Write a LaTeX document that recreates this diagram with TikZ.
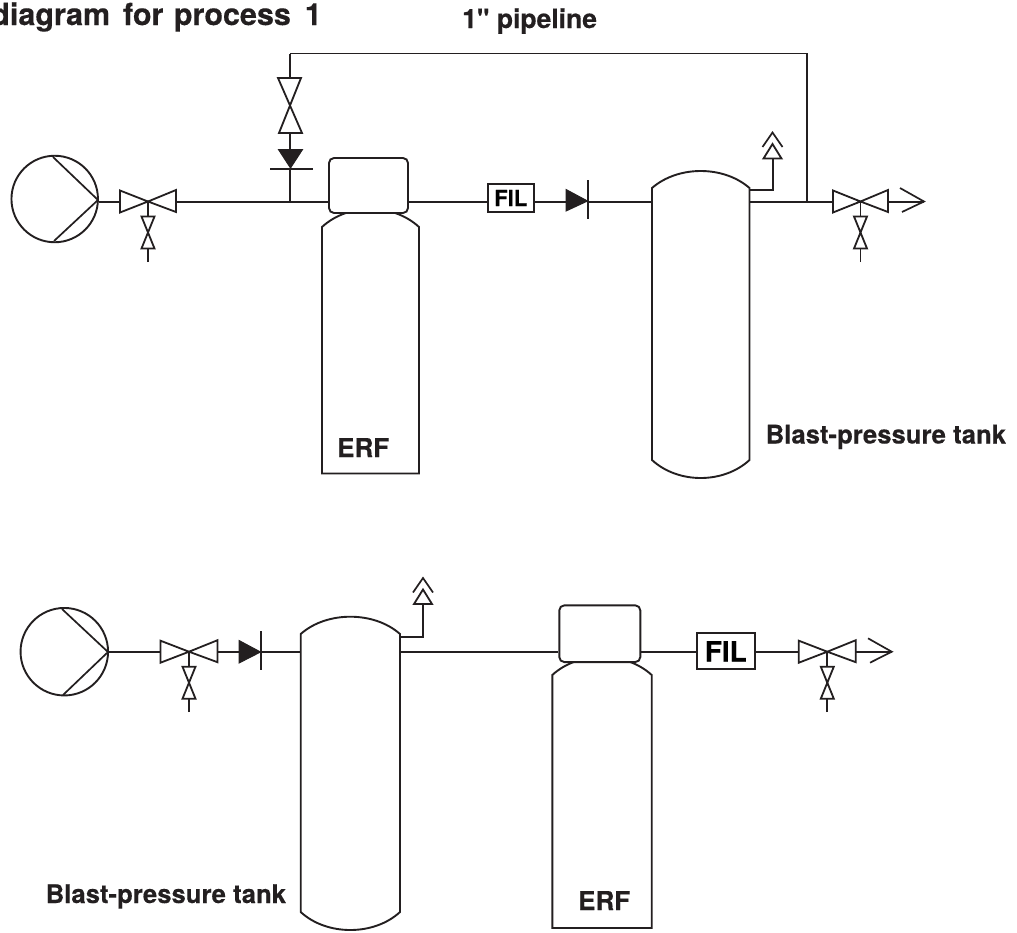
\documentclass[tikz,border=0pt]{standalone}
\usepackage{fontspec}
\setmainfont{TeX Gyre Heros}[BoldFeatures={FakeBold=0.3}]
\newfontfamily\rawheros{TeX Gyre Heros}[BoldFeatures={FakeBold=0.3}]
\usetikzlibrary{backgrounds}
\definecolor{ink}{HTML}{231F20}
\tikzset{
  x=1pt,y=-1pt,
  ink line/.style={draw=ink,line width=2pt},
  pipe/.style={ink line},
  thin pipe/.style={draw=ink,line width=1.7pt},
  symbol/.style={draw=ink,line width=1.8pt,fill=white,line join=miter},
  solid mark/.style={draw=ink,fill=ink,line width=1pt},
  tank body/.style={draw=ink,line width=1.9pt,fill=white},
  pump/.style={circle,draw=ink,line width=1.9pt,fill=white,inner sep=0pt,minimum size=86.5pt},
  header/.style={rectangle,draw=ink,line width=1.9pt,fill=white,rounded corners=5pt,inner sep=0pt},
  filter/.style={rectangle,draw=ink,line width=1.9pt,fill=white,inner sep=0pt,font=\bfseries},
  label/.style={inner sep=0pt,text=ink,font=\bfseries,anchor=base west},
}
% horizontal valve with its small drain valve; #1 name, #2 cx, #3 cy, #4 half-width
\newcommand{\hvalve}[4]{%
  \coordinate (#1) at (#2,#3);
  \coordinate (#1drain) at (#2,#3+60.5);
  \path[symbol] (#2-#4,#3-11) -- (#2,#3) -- (#2-#4,#3+11) -- cycle;
  \path[symbol] (#2+#4,#3-11.5) -- (#2,#3) -- (#2+#4,#3+10.5) -- cycle;
  \path[symbol] (#2-6.5,#3+15) -- (#2+6.5,#3+15) -- (#2,#3+31) -- cycle;
  \path[symbol] (#2-6.5,#3+47) -- (#2+6.5,#3+47) -- (#2,#3+31) -- cycle;
}
% tank with domed top; #1 name #2 left #3 right #4 apex #5 shoulder #6 lower shoulder #7 bottom
\newcommand{\domedtank}[7]{%
  \path[tank body] (#2,#6) -- (#2,#5)
    .. controls ({#2+26},{#4-(#5-#4)/3}) and ({#3-26},{#4-(#5-#4)/3}) .. (#3,#5)
    -- (#3,#6)
    .. controls ({#3-26},{#7+(#7-#6)/3}) and ({#2+26},{#7+(#7-#6)/3}) .. (#2,#6) -- cycle;
}
\newcommand{\flattank}[6]{%
  \path[tank body] (#2,#6) -- (#2,#5)
    .. controls ({#2+26},{#4-(#5-#4)/3}) and ({#3-26},{#4-(#5-#4)/3}) .. (#3,#5)
    -- (#3,#6) -- cycle;
}
% vent; #1 name, #2 x, #3 y of triangle base
\newcommand{\vent}[3]{%
  \coordinate (#1) at (#2,#3);
  \path[symbol] (#2-9,#3) -- (#2+9,#3) -- (#2,#3-14.5) -- cycle;
  \path[thin pipe] (#2-10,#3-11.5) -- (#2,#3-26) -- (#2+10,#3-11.5);
}
\begin{document}
\begin{tikzpicture}
\useasboundingbox (0,0) rectangle (1017,932);

% ---------- upper process ----------
\node[pump] (pumpA) at (54.7,199) {};
\path[thin pipe] (53,157) -- (98,200) -- (54,241);

\hvalve{valveA}{148}{201.5}{28}
\path[symbol] (278,78) -- (301,78) -- (290,105.5) -- cycle;
\path[symbol] (279,133) -- (302,133) -- (290,105.5) -- cycle;
\coordinate (bypassValveTop) at (290,78);
\coordinate (bypassValveBot) at (290,133);
\path[solid mark] (278.5,149.5) -- (302.5,149.5) -- (290.5,168) -- cycle;
\coordinate (bypassCheckTop) at (290,149.5);
\coordinate (bypassBar) at (290,169);
\coordinate (bypassBarL) at (270,169);
\coordinate (bypassBarR) at (312.5,169);
\coordinate (teeIn) at (290,201.5);
\coordinate (corner1) at (290,53.5);
\coordinate (corner2) at (807,53.5);
\coordinate (teeOut) at (807,201.5);

\flattank{erfA}{322}{419}{209}{227}{473.5}
\node[header,minimum width=79pt,minimum height=55pt] (headA) at (368.5,185.5) {};
\node[filter,minimum width=46.5pt,minimum height=28.5pt,font=\bfseries\fontsize{22}{22}\selectfont] (filA) at (510.8,198) {FIL};

\path[solid mark] (566,189.5) -- (566,211) -- (587.5,201) -- cycle;
\coordinate (checkA) at (566,201.5);
\coordinate (barA) at (588,201.5);
\coordinate (barAt) at (588,180);
\coordinate (barAb) at (588,219);

\domedtank{tankA}{652}{749.5}{171}{188}{460}{478}
\coordinate (tankAin) at (652,201.5);
\coordinate (tankAout) at (749.5,201.5);
\coordinate (tankAvent) at (749.5,190);
\coordinate (ventAelbow) at (772.5,190);
\vent{ventA}{772.5}{158.5}

\hvalve{valveB}{860.5}{201.5}{27.5}
\coordinate (outA) at (924,201.5);
\path[thin pipe] (900,188) -- (924,201.5) -- (902,212);

\begin{scope}[on background layer]
  \path[pipe] (pumpA.east |- valveA) -- (valveA) -- (teeIn) -- (headA.west |- teeIn);
  \path[thin pipe] (valveAdrain) -- (valveA);
  \path[pipe] (teeIn) -- (bypassBar);
  \path[thin pipe] (bypassBarL) -- (bypassBarR);
  \path[pipe] (bypassCheckTop) -- (bypassValveBot);
  \path[pipe] (bypassValveTop) -- (corner1);
  \path[thin pipe] (corner1) -- (corner2) -- (teeOut);
  \path[pipe] (headA.east |- teeIn) -- (filA.west |- teeIn);
  \path[pipe] (filA.east |- teeIn) -- (checkA);
  \path[pipe] (barA) -- (tankAin);
  \path[thin pipe] (barAt) -- (barAb);
  \path[pipe] (tankAvent) -- (ventAelbow) -- (ventA);
  \path[pipe] (tankAout) -- (valveB) -- (outA);
  \path[thin pipe] (valveBdrain) -- (valveB);
\end{scope}

\node[label,font=\bfseries\fontsize{26}{26}\selectfont] (labErfA) at (337,457) {ERF};
\node[label,font=\bfseries\fontsize{25.7}{25.7}\selectfont] (labTankA) at (765.5,443.5) {Blast-pressure tank};
\node[label,font=\bfseries\fontsize{30.5}{30.5}\selectfont,anchor=base east] (title) at (322,25) {diagram\hspace{4.5pt} for\hspace{2pt} process\hspace{5.5pt} 1};
\node[label,font=\rawheros\bfseries\fontsize{26.5}{26.5}\selectfont] (labPipe) at (462,28) {1" pipeline};

% ---------- lower process ----------
\node[pump,minimum size=87.5pt] (pumpB) at (64.3,651.7) {};
\path[thin pipe] (62,609) -- (108,652) -- (63,695);

\hvalve{valveC}{189}{651.7}{28.5}
\path[solid mark] (239,640.5) -- (239,663) -- (260.5,652) -- cycle;
\coordinate (checkB) at (239,651.7);
\coordinate (barB) at (261,651.7);
\coordinate (barBt) at (261,631);
\coordinate (barBb) at (261,670);

\domedtank{tankB}{300.7}{400}{616.7}{634}{912}{930}
\coordinate (tankBin) at (300.7,651.7);
\coordinate (tankBout) at (400,651.7);
\coordinate (tankBvent) at (400,637);
\coordinate (ventBelbow) at (423,637);
\vent{ventB}{423}{604}

\flattank{erfB}{552.3}{651.7}{657}{675}{928}
\node[header,minimum width=81pt,minimum height=56.7pt] (headB) at (599.8,633.7) {};
\node[filter,minimum width=58.3pt,minimum height=36pt,font=\bfseries\fontsize{28}{28}\selectfont] (filB) at (725.8,651.3) {FIL};

\hvalve{valveD}{827.3}{651.7}{28.5}
\coordinate (outB) at (891.7,651.7);
\path[thin pipe] (868,638.3) -- (891.7,651.7) -- (870,662.7);

\begin{scope}[on background layer]
  \path[pipe] (pumpB.east) -- (valveC) -- (checkB);
  \path[thin pipe] (valveCdrain) -- (valveC);
  \path[pipe] (barB) -- (tankBin);
  \path[thin pipe] (barBt) -- (barBb);
  \path[pipe] (tankBvent) -- (ventBelbow) -- (ventB);
  \path[pipe] (tankBout) -- (headB.west |- tankBout);
  \path[pipe] (headB.east |- tankBout) -- (filB.west |- tankBout);
  \path[pipe] (filB.east |- tankBout) -- (valveD) -- (outB);
  \path[thin pipe] (valveDdrain) -- (valveD);
\end{scope}

\node[label,font=\bfseries\fontsize{25.7}{25.7}\selectfont] (labTankB) at (45.5,903) {Blast-pressure tank};
\node[label,font=\bfseries\fontsize{26}{26}\selectfont] (labErfB) at (578,910) {ERF};
\end{tikzpicture}
\end{document}
